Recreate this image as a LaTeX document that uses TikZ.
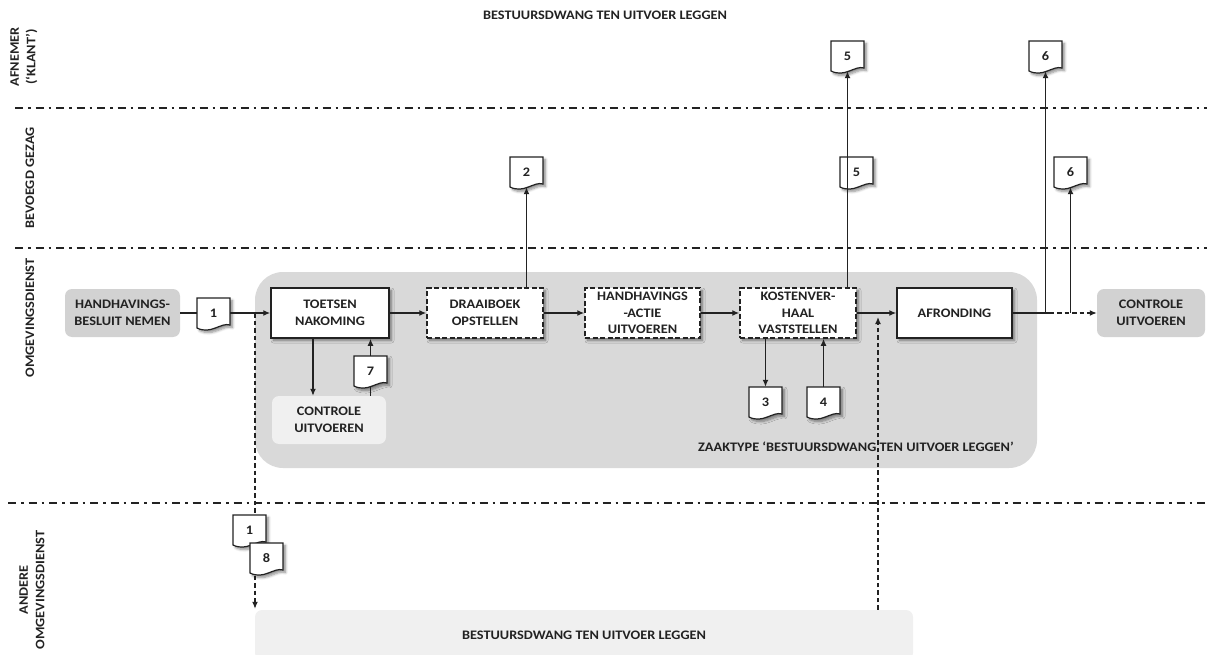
\documentclass[tikz,border=0pt]{standalone}
\usepackage{fontspec}
\setmainfont{Carlito}[FakeStretch=1.1]
\usetikzlibrary{arrows.meta,shadows.blur,calc}

\definecolor{ink}{HTML}{222222}
\definecolor{midgrey}{HTML}{D2D2D2}
\definecolor{zaakgrey}{HTML}{D9D9D9}
\definecolor{palegrey}{HTML}{F0F0F0}

\newcommand{\dgmfont}{\fontsize{13}{16.5}\selectfont\bfseries}

\tikzset{
  lane/.style={draw=ink, line width=1.9pt, dash pattern=on 8pt off 5pt on 2.5pt off 5pt},
  conn/.style={draw=ink, line width=1.3pt},
  arr/.style={conn, -{Latex[length=7pt,width=6pt]}},
  dconn/.style={conn, dash pattern=on 4.5pt off 3pt},
  darr/.style={dconn, -{Latex[length=7pt,width=6pt]}},
  softshadow/.style={blur shadow={shadow xshift=2.5pt, shadow yshift=-2.5pt,
      shadow blur steps=6, shadow blur radius=2.5pt, shadow opacity=45}},
  proc/.style={draw=ink, line width=1.5pt, fill=white, minimum width=116pt,
      minimum height=50pt, align=center, font=\dgmfont, text=ink, inner sep=0pt, softshadow},
  dproc/.style={proc, dash pattern=on 5pt off 2.5pt},
  gbox/.style={fill=#1, draw=none, rounded corners=7pt, align=center,
      font=\dgmfont, text=ink, inner sep=0pt},
  lanelabel/.style={rotate=90, font=\dgmfont, text=ink, align=center},
  plain/.style={font=\dgmfont, text=ink, align=center},
  docline/.style={draw=ink, line width=1.2pt, fill=white, softshadow},
}

% document symbol: top-left corner (#2,#3), wavy lower edge, named node #1
\newcommand{\docat}[4]{%
  \draw[docline] (#2,#3) -- ({#2+33},#3) -- ({#2+33},{#3+27})
    .. controls ({#2+24},{#3+24}) and ({#2+14},{#3+37}) .. (#2,{#3+30}) -- cycle;
  \node[plain, inner sep=0pt, minimum width=33pt, minimum height=30pt]
    (#1) at ({#2+16.5},{#3+15}) {#4};
}

\begin{document}
\begin{tikzpicture}[x=1pt,y=-1pt]
\useasboundingbox (0,0) rectangle (1207,655);

% title
\node[plain] (title) at (605,15) {BESTUURSDWANG TEN UITVOER LEGGEN};

% swimlane separators
\draw[lane] (15,108) -- (1207,108);
\draw[lane] (15,248) -- (1207,248);
\draw[lane] (8,503) -- (1207,503);

% swimlane names
\node[lanelabel] (ln1) at (24,57) {AFNEMER\\(‘KLANT’)};
\node[lanelabel] (ln2) at (30,178) {BEVOEGD GEZAG};
\node[lanelabel] (ln3) at (30,318) {OMGEVINGSDIENST};
\node[lanelabel] (ln4) at (32,590) {ANDERE\\OMGEVINGSDIENST};

% case type container
\node[fill=zaakgrey, draw=none, rounded corners=28pt, minimum width=782pt,
      minimum height=196pt] (zaak) at (646,370) {};
\node[plain] (zaaklbl) at (856,447) {ZAAKTYPE ‘BESTUURSDWANG TEN UITVOER LEGGEN’};

% process steps
\node[gbox=midgrey, minimum width=115pt, minimum height=48pt] (hb) at (122.5,313)
  {HANDHAVINGS-\\BESLUIT NEMEN};
\node[proc, minimum width=118pt] (toets) at (330,313) {TOETSEN\\NAKOMING};
\node[gbox=palegrey, minimum width=114pt, minimum height=48pt] (cu1) at (329,420)
  {CONTROLE\\UITVOEREN};
\node[dproc] (draai) at (485,313) {DRAAIBOEK\\OPSTELLEN};
\node[dproc, minimum width=115pt] (hact) at (642.5,313) {HANDHAVINGS\\-ACTIE\\UITVOEREN};
\node[dproc] (kost) at (798,313) {KOSTENVER-\\HAAL\\VASTSTELLEN};
\node[proc, minimum width=115pt] (afr) at (954.5,313) {AFRONDING};
\node[gbox=midgrey, minimum width=108pt, minimum height=48pt] (cu2) at (1151,313)
  {CONTROLE\\UITVOEREN};
\node[gbox=palegrey, minimum width=658pt, minimum height=50pt] (bot) at (584,635)
  {BESTUURSDWANG TEN UITVOER LEGGEN};

% hand-over to the other service (runs behind documents 1 and 8)
\coordinate (dn) at (255,313);
\draw[darr, shorten >=1pt] (dn) -- (dn |- bot.north);
\docat{d1b}{233}{515}{1}
\docat{d8}{250}{543}{8}

% return from the other service
\coordinate (up) at (878,317);
\draw[darr] (up |- bot.north) -- (up);

% documents
\docat{d1}{197}{298}{1}
\docat{d7}{354}{356}{7}
\docat{d2}{510}{157}{2}
\docat{d5b}{840}{157}{5}
\docat{d5a}{831}{41}{5}
\docat{d3}{749}{387}{3}
\docat{d4}{807}{387}{4}
\docat{d6a}{1029}{41}{6}
\docat{d6b}{1054}{157}{6}

% main flow
\draw[conn] (hb.east) -- (d1.west);
\draw[arr] (d1.east) -- (toets.west);
\draw[arr] (toets.east) -- (draai.west);
\draw[arr] (draai.east) -- (hact.west);
\draw[arr] (hact.east) -- (kost.west);
\draw[arr] (kost.east) -- (afr.west);

% toetsen <-> controle
\coordinate (tdown) at (313,313);
\draw[arr] (toets.south -| tdown) -- (cu1.north -| tdown);
\draw[conn] (cu1.north -| d7.south) -- (d7.south);
\draw[arr] (d7.north) -- (toets.south -| d7.north);

% outputs
\draw[arr] (draai.north -| d2.south) -- (d2.south);
\draw[arr] (kost.north -| d5a.south) -- (d5a.south);
\draw[arr] (kost.south -| d3.north) -- (d3.north);
\draw[arr] (d4.north) -- (kost.south -| d4.north);

% afronding outputs
\coordinate (j1) at (d6a.south |- afr.east);
\coordinate (j2) at (d6b.south |- afr.east);
\draw[conn] (afr.east) -- ([xshift=4pt]j1);
\draw[darr] ([xshift=4pt]j1) -- (cu2.west);
\draw[arr] (j1) -- (d6a.south);
\draw[arr] (j2) -- (d6b.south);
\end{tikzpicture}
\end{document}
